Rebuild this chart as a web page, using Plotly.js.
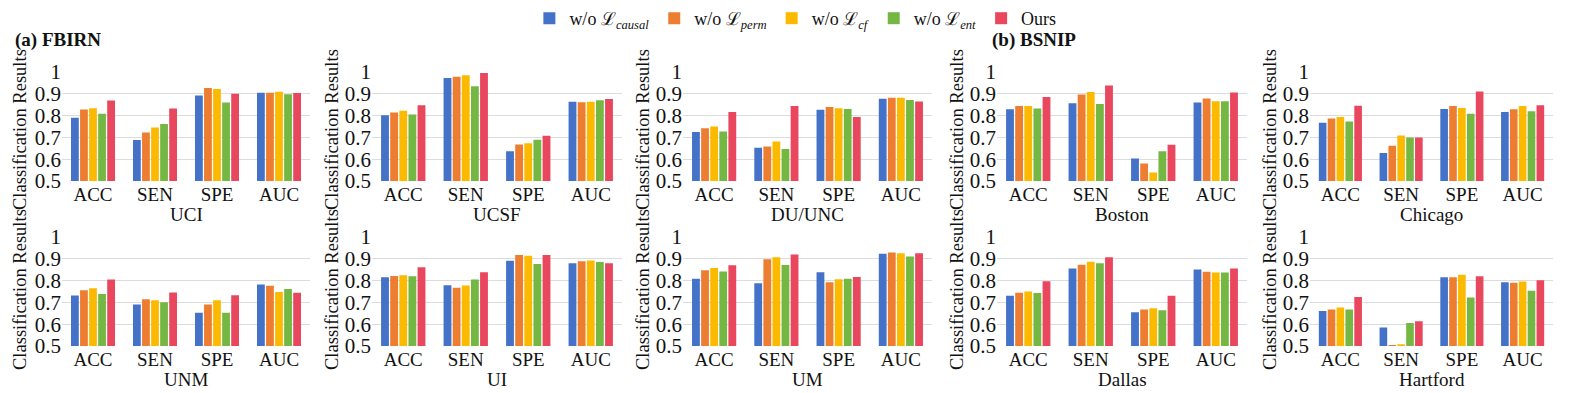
<!DOCTYPE html>
<html><head><meta charset="utf-8">
<script src="https://cdn.plot.ly/plotly-3.0.1.min.js"></script>
<style>html,body{margin:0;padding:0;background:#fff}#chart{width:1575px;height:393px}</style>
</head><body><div id="chart"></div>
<script>
// Categories
const metrics = ['ACC', 'SEN', 'SPE', 'AUC'];
const sites = ['UCI', 'UCSF', 'DU/UNC', 'Boston', 'Chicago', 'UNM', 'UI', 'UM', 'Dallas', 'Hartford'];
const seriesNames = [
  'w/o ℒ<sub><i>causal</i></sub>',
  'w/o ℒ<sub><i>perm</i></sub>',
  'w/o ℒ<sub><i>cf</i></sub>',
  'w/o ℒ<sub><i>ent</i></sub>',
  'Ours'
];
const seriesColors = ['#4472C8', '#ED7D31', '#FBBA00', '#74B843', '#E8475E'];

// Values per site (order of `sites`), each [ACC, SEN, SPE, AUC]
const woCausal = [
  [0.790, 0.688, 0.892, 0.905],
  [0.802, 0.972, 0.636, 0.864],
  [0.725, 0.653, 0.827, 0.877],
  [0.829, 0.857, 0.603, 0.860],
  [0.767, 0.628, 0.830, 0.817],
  [0.732, 0.690, 0.652, 0.782],
  [0.815, 0.779, 0.891, 0.880],
  [0.808, 0.788, 0.838, 0.923],
  [0.731, 0.856, 0.655, 0.851],
  [0.660, 0.585, 0.815, 0.792]
];
const woPerm = [
  [0.828, 0.722, 0.927, 0.905],
  [0.814, 0.978, 0.667, 0.861],
  [0.742, 0.658, 0.840, 0.882],
  [0.844, 0.897, 0.580, 0.878],
  [0.787, 0.662, 0.844, 0.829],
  [0.756, 0.715, 0.690, 0.776],
  [0.821, 0.767, 0.917, 0.889],
  [0.847, 0.898, 0.792, 0.929],
  [0.744, 0.873, 0.668, 0.841],
  [0.668, 0.505, 0.815, 0.790]
];
const woCf = [
  [0.834, 0.745, 0.922, 0.909],
  [0.822, 0.985, 0.673, 0.864],
  [0.750, 0.681, 0.834, 0.882],
  [0.844, 0.908, 0.539, 0.866],
  [0.794, 0.709, 0.835, 0.844],
  [0.765, 0.710, 0.710, 0.748],
  [0.824, 0.777, 0.914, 0.892],
  [0.858, 0.907, 0.806, 0.926],
  [0.750, 0.886, 0.673, 0.837],
  [0.677, 0.508, 0.827, 0.796]
];
const woEnt = [
  [0.809, 0.761, 0.860, 0.898],
  [0.805, 0.935, 0.689, 0.870],
  [0.727, 0.647, 0.830, 0.871],
  [0.832, 0.853, 0.636, 0.866],
  [0.773, 0.700, 0.808, 0.820],
  [0.739, 0.701, 0.652, 0.761],
  [0.820, 0.805, 0.876, 0.885],
  [0.842, 0.871, 0.809, 0.911],
  [0.743, 0.880, 0.664, 0.837],
  [0.668, 0.605, 0.722, 0.754]
];
const ours = [
  [0.869, 0.832, 0.900, 0.904],
  [0.847, 0.995, 0.707, 0.876],
  [0.816, 0.844, 0.794, 0.865],
  [0.885, 0.938, 0.666, 0.906],
  [0.845, 0.700, 0.911, 0.847],
  [0.805, 0.745, 0.733, 0.744],
  [0.861, 0.838, 0.917, 0.880],
  [0.870, 0.920, 0.817, 0.925],
  [0.797, 0.907, 0.731, 0.856],
  [0.725, 0.613, 0.820, 0.802]
];
const allSeries = [woCausal, woPerm, woCf, woEnt, ours];

// Layout geometry (pixels in a 1575 x 393 canvas)
const W = 1575, H = 393;
const colPx = [[62, 310], [372, 622], [683, 932], [997, 1247], [1310, 1553]];
const rowPx = [[72, 181], [237, 346]];
const yTitlePx = [20, 332, 643, 957, 1270];
const yTitleCenter = [130, 290];
const siteTitleY = [214, 379];

const font = '"Liberation Serif"';
const ink = '#111';
const traces = [];
const layout = {
  width: W, height: H,
  margin: {l: 0, r: 0, t: 0, b: 0, autoexpand: false},
  paper_bgcolor: '#fff', plot_bgcolor: '#fff',
  font: {family: font, color: ink, size: 18},
  barmode: 'group', bargap: 0.27, bargroupgap: 0.14,
  showlegend: true,
  legend: {orientation: 'h', x: 0.505, xanchor: 'center', y: 1.0, yanchor: 'top', yref: 'container',
           font: {family: font, size: 18, color: ink}, itemwidth: 30, tracegroupgap: 0},
  annotations: []
};

sites.forEach((site, i) => {
  const r = Math.floor(i / 5), c = i % 5;
  const ax = i === 0 ? '' : String(i + 1);
  allSeries.forEach((s, k) => {
    traces.push({
      type: 'bar', x: metrics, y: s[i], name: seriesNames[k],
      marker: {color: seriesColors[k]},
      xaxis: 'x' + ax, yaxis: 'y' + ax,
      legendgroup: 'g' + k, showlegend: i === 0,
      hoverinfo: 'y'
    });
  });
  layout['xaxis' + ax] = {
    domain: [colPx[c][0] / W, colPx[c][1] / W],
    anchor: 'y' + ax, showgrid: false, showline: false, ticks: '',
    tickfont: {family: font, size: 19, color: ink}, fixedrange: true
  };
  layout['yaxis' + ax] = {
    domain: [1 - rowPx[r][1] / H, 1 - rowPx[r][0] / H],
    anchor: 'x' + ax, range: [0.5, 1], dtick: 0.1, tick0: 0.5,
    showgrid: true, gridcolor: '#dcdcdc', gridwidth: 1, zeroline: false, showline: false,
    ticks: '', tickfont: {family: font, size: 21, color: ink}, fixedrange: true
  };
  layout.annotations.push({
    xref: 'paper', yref: 'paper', x: (colPx[c][0] + colPx[c][1]) / 2 / W, y: 1 - siteTitleY[r] / H,
    xanchor: 'center', yanchor: 'middle', text: site, showarrow: false,
    font: {family: font, size: 19, color: ink}
  });
  layout.annotations.push({
    xref: 'paper', yref: 'paper', x: yTitlePx[c] / W, y: 1 - yTitleCenter[r] / H,
    xanchor: 'center', yanchor: 'middle', text: 'Classification Results', textangle: -90,
    showarrow: false, font: {family: font, size: 18.5, color: ink}
  });
});

layout.annotations.push({
  xref: 'paper', yref: 'paper', x: 13 / W, y: 1 - 40 / H, xanchor: 'left', yanchor: 'middle',
  text: '<b>(a) FBIRN</b>', showarrow: false, font: {family: font, size: 19, color: ink}
});
layout.annotations.push({
  xref: 'paper', yref: 'paper', x: 990 / W, y: 1 - 40 / H, xanchor: 'left', yanchor: 'middle',
  text: '<b>(b) BSNIP</b>', showarrow: false, font: {family: font, size: 19, color: ink}
});

Plotly.newPlot('chart', traces, layout, {displayModeBar: false, staticPlot: true});
</script>
</body></html>
